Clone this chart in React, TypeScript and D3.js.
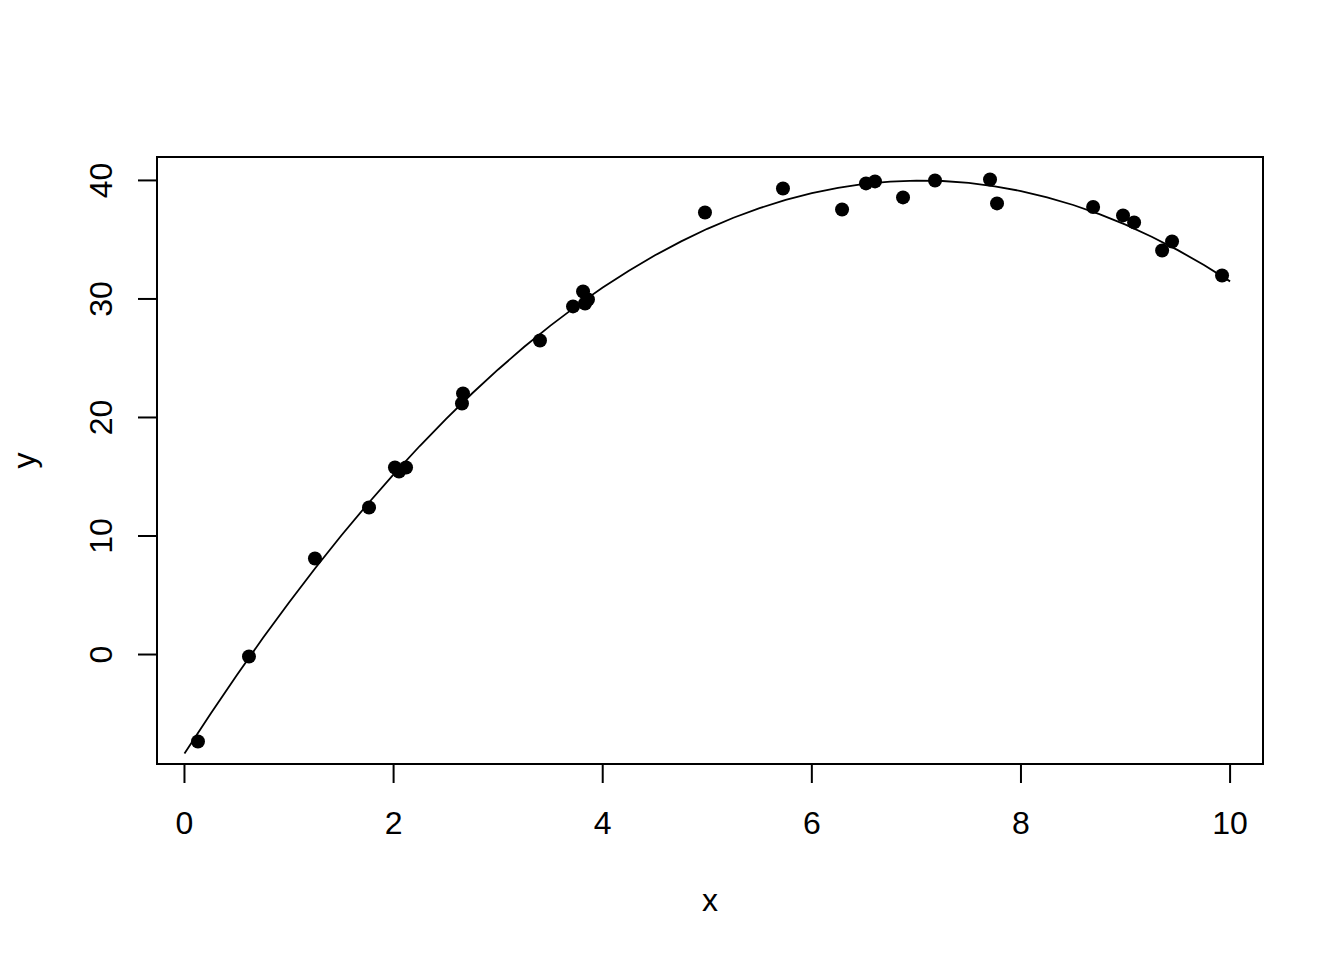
import React, { useEffect, useRef } from "react";
import * as d3 from "d3";

const xValues = [
  0.129, 0.617, 1.248, 1.765, 2.013, 2.052, 2.119, 2.654, 2.664, 3.4,
  3.716, 3.812, 3.859, 3.831, 4.978, 5.724, 6.289, 6.518, 6.604, 6.872,
  7.178, 7.704, 7.771, 8.69, 8.976, 9.082, 9.35, 9.445, 9.923,
];
const yValues = [
  -7.34, -0.17, 8.1, 12.41, 15.78, 15.44, 15.78, 21.18, 22.03, 26.5,
  29.37, 30.63, 29.96, 29.62, 37.3, 39.32, 37.55, 39.75, 39.92, 38.57,
  40.0, 40.08, 38.06, 37.76, 37.05, 36.46, 34.09, 34.85, 31.98,
];
const xTicks = [0, 2, 4, 6, 8, 10];
const yTicks = [0, 10, 20, 30, 40];
const xTitle = "x";
const yTitle = "y";

const W = 1344;
const H = 960;
const margin = { top: 157, right: 81, bottom: 196, left: 157 };

// quadratic least squares fit y ~ x + x^2
const fitQuadratic = (xs: number[], ys: number[]) => {
  const S = [[0, 0, 0], [0, 0, 0], [0, 0, 0]];
  const b = [0, 0, 0];
  xs.forEach((x, i) => {
    const row = [1, x, x * x];
    for (let r = 0; r < 3; r++) {
      for (let c = 0; c < 3; c++) S[r][c] += row[r] * row[c];
      b[r] += row[r] * ys[i];
    }
  });
  // gaussian elimination
  const A = S.map((r, i) => [...r, b[i]]);
  for (let i = 0; i < 3; i++) {
    for (let k = i + 1; k < 3; k++) {
      const f = A[k][i] / A[i][i];
      for (let j = i; j < 4; j++) A[k][j] -= f * A[i][j];
    }
  }
  const coef = [0, 0, 0];
  for (let i = 2; i >= 0; i--) {
    let s = A[i][3];
    for (let j = i + 1; j < 3; j++) s -= A[i][j] * coef[j];
    coef[i] = s / A[i][i];
  }
  return (x: number) => coef[0] + coef[1] * x + coef[2] * x * x;
};

const pad = (ext: [number, number]) => {
  const d = (ext[1] - ext[0]) * 0.04;
  return [ext[0] - d, ext[1] + d];
};

const ScatterFit = () => {
  const ref = useRef<SVGSVGElement>(null);

  useEffect(() => {
    const svg = d3.select(ref.current);
    svg.selectAll("*").remove();

    const x = d3
      .scaleLinear()
      .domain(pad(d3.extent(xValues) as [number, number]))
      .range([margin.left, W - margin.right]);
    const y = d3
      .scaleLinear()
      .domain(pad(d3.extent(yValues) as [number, number]))
      .range([H - margin.bottom, margin.top]);

    const font = "'Liberation Sans', Arial, sans-serif";

    svg
      .append("clipPath")
      .attr("id", "plotclip")
      .append("rect")
      .attr("x", margin.left)
      .attr("y", margin.top)
      .attr("width", W - margin.left - margin.right)
      .attr("height", H - margin.top - margin.bottom);

    // fitted curve
    const f = fitQuadratic(xValues, yValues);
    const grid = d3.range(0, 10.0001, 0.25);
    const line = d3
      .line<number>()
      .x((d) => x(d))
      .y((d) => y(f(d)));
    svg
      .append("path")
      .attr("d", line(grid))
      .attr("fill", "none")
      .attr("stroke", "black")
      .attr("stroke-width", 1.8)
      .attr("clip-path", "url(#plotclip)");

    // points
    svg
      .append("g")
      .selectAll("circle")
      .data(xValues)
      .enter()
      .append("circle")
      .attr("cx", (d) => x(d))
      .attr("cy", (d, i) => y(yValues[i]))
      .attr("r", 7)
      .attr("fill", "black");

    // box
    svg
      .append("rect")
      .attr("x", margin.left)
      .attr("y", margin.top)
      .attr("width", W - margin.left - margin.right)
      .attr("height", H - margin.top - margin.bottom)
      .attr("fill", "none")
      .attr("stroke", "black")
      .attr("stroke-width", 2);

    // x axis
    const bottom = H - margin.bottom;
    const gx = svg.append("g");
    gx.append("line")
      .attr("x1", x(xTicks[0]))
      .attr("x2", x(xTicks[xTicks.length - 1]))
      .attr("y1", bottom)
      .attr("y2", bottom)
      .attr("stroke", "black")
      .attr("stroke-width", 2);
    gx.selectAll(".tick")
      .data(xTicks)
      .enter()
      .append("line")
      .attr("x1", (d) => x(d))
      .attr("x2", (d) => x(d))
      .attr("y1", bottom)
      .attr("y2", bottom + 19)
      .attr("stroke", "black")
      .attr("stroke-width", 2);
    gx.selectAll("text")
      .data(xTicks)
      .enter()
      .append("text")
      .attr("x", (d) => x(d))
      .attr("y", 834)
      .attr("text-anchor", "middle")
      .attr("font-family", font)
      .attr("font-size", 32)
      .text((d) => d);

    // y axis
    const left = margin.left;
    const gy = svg.append("g");
    gy.append("line")
      .attr("x1", left)
      .attr("x2", left)
      .attr("y1", y(yTicks[0]))
      .attr("y2", y(yTicks[yTicks.length - 1]))
      .attr("stroke", "black")
      .attr("stroke-width", 2);
    gy.selectAll(".tick")
      .data(yTicks)
      .enter()
      .append("line")
      .attr("x1", left)
      .attr("x2", left - 19)
      .attr("y1", (d) => y(d))
      .attr("y2", (d) => y(d))
      .attr("stroke", "black")
      .attr("stroke-width", 2);
    gy.selectAll("text")
      .data(yTicks)
      .enter()
      .append("text")
      .attr("transform", (d) => `translate(112,${y(d)}) rotate(-90)`)
      .attr("text-anchor", "middle")
      .attr("font-family", font)
      .attr("font-size", 32)
      .text((d) => d);

    // titles
    svg
      .append("text")
      .attr("x", (margin.left + W - margin.right) / 2)
      .attr("y", 911)
      .attr("text-anchor", "middle")
      .attr("font-family", font)
      .attr("font-size", 32)
      .text(xTitle);
    svg
      .append("text")
      .attr("transform", `translate(35,${(margin.top + H - margin.bottom) / 2}) rotate(-90)`)
      .attr("text-anchor", "middle")
      .attr("font-family", font)
      .attr("font-size", 32)
      .text(yTitle);
  }, []);

  return <svg ref={ref} width={W} height={H} style={{ display: "block" }} />;
};

export default function App() {
  return (
    <div style={{ margin: -8 }}>
      <ScatterFit />
    </div>
  );
}
